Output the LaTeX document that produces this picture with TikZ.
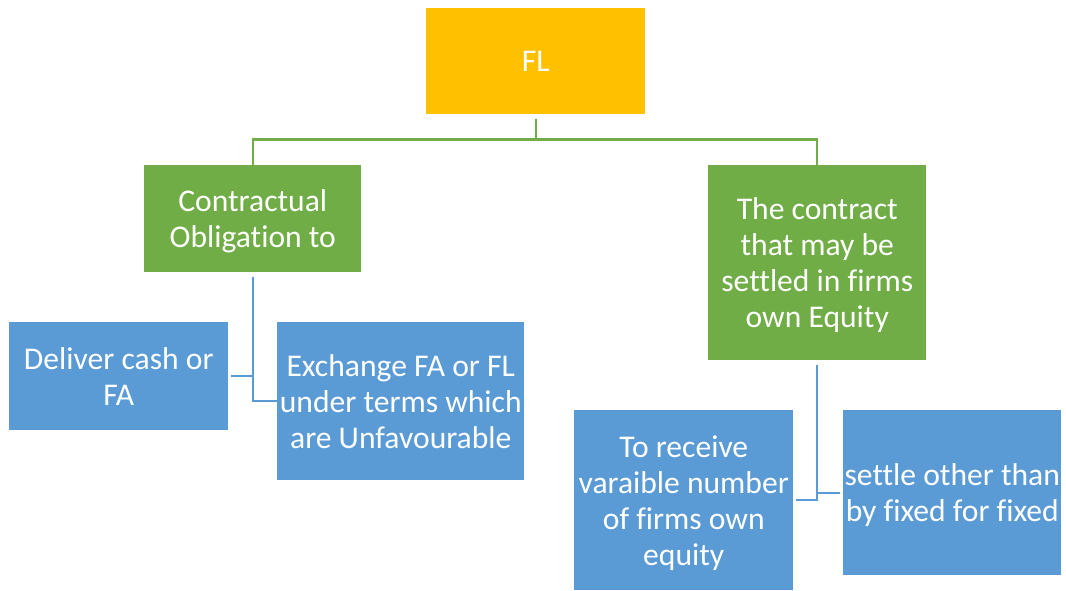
\documentclass[tikz,border=0pt]{standalone}
\usepackage{fontspec}
\setmainfont[Ligatures=NoCommon]{Carlito}
\definecolor{gold}{HTML}{FFC000}
\definecolor{leafgreen}{HTML}{70AD47}
\definecolor{skyblue}{HTML}{5B9BD5}
\begin{document}
\begin{tikzpicture}[x=0.75pt,y=-0.75pt,
  box/.style={anchor=north west, inner sep=0pt, align=center, text=white,
    font=\fontsize{23.7}{27}\selectfont, text depth=-1.5pt},
  goldbox/.style={box, fill=gold},
  greenbox/.style={box, fill=leafgreen},
  bluebox/.style={box, fill=skyblue},
  gline/.style={draw=leafgreen, line width=1.8pt},
  bline/.style={draw=skyblue, line width=1.8pt}]
\useasboundingbox (0,0) rectangle (1066,591);
% top level
\node[goldbox, minimum width=164.25pt, minimum height=79.5pt] (fl) at (426,8) {FL};
% second level
\node[greenbox, minimum width=162.75pt, minimum height=80.25pt] (oblig) at (144,165)
  {Contractual\\Obligation to};
\node[greenbox, minimum width=163.5pt, minimum height=146.25pt] (equity) at (708,165)
  {The contract\\that may be\\settled in firms\\own Equity};
% third level
\node[bluebox, minimum width=164.25pt, minimum height=81pt] (cash) at (9,322)
  {Deliver cash or\\FA};
\node[bluebox, minimum width=185.25pt, minimum height=118.5pt] (exch) at (277,322)
  {Exchange FA or FL\\under terms which\\are Unfavourable};
\node[bluebox, minimum width=164.25pt, minimum height=135pt] (recv) at (574,410)
  {To receive\\varaible number\\of firms own\\equity};
\node[bluebox, minimum width=163.5pt, minimum height=123.75pt] (settle) at (843,410)
  {settle other than\\by fixed for fixed};
% connectors
\draw[gline, shorten <=3pt] (fl.south) -- ++(0,25) -| ([yshift=-3pt]oblig.north);
\draw[gline, shorten <=3pt] (fl.south) -- ++(0,25) -| ([yshift=-3pt]equity.north);
\draw[bline] ([yshift=-3pt]oblig.south) |- ([xshift=2pt]cash.east);
\draw[bline] ([yshift=-3pt]oblig.south) |- (exch.west);
\draw[bline] ([yshift=-3pt]equity.south) |- ([xshift=2pt]recv.east);
\draw[bline] ([yshift=-3pt]equity.south) |- ([xshift=-2pt]settle.west);
\end{tikzpicture}
\end{document}
